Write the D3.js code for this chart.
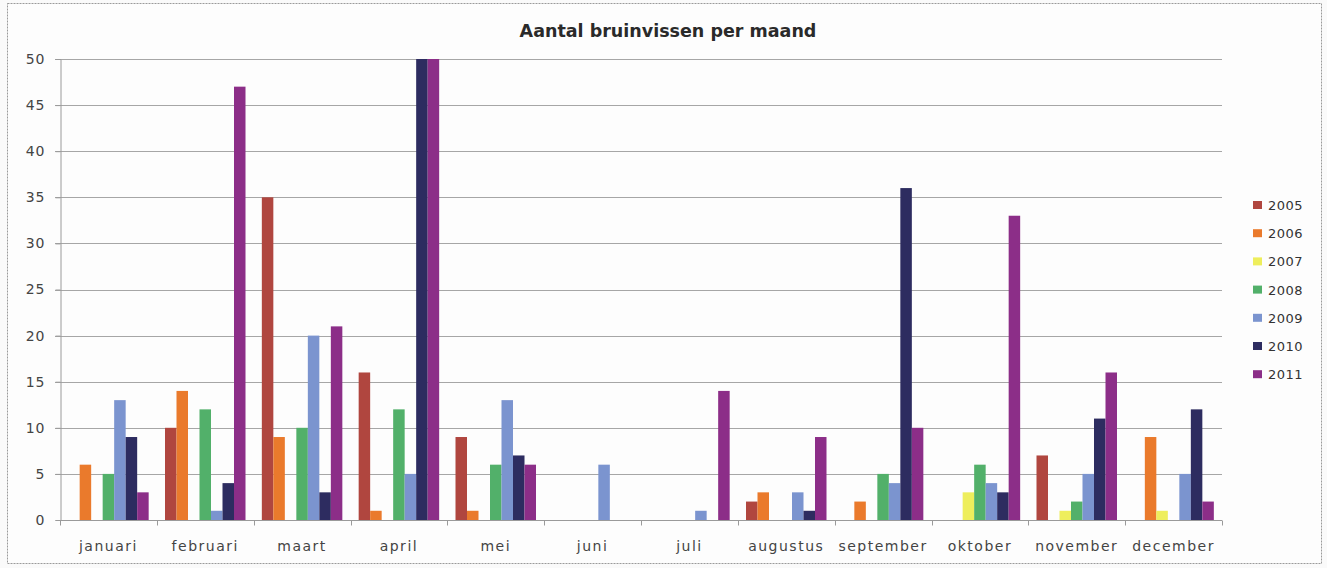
<!DOCTYPE html>
<html>
<head>
<meta charset="utf-8">
<script src="https://cdn.jsdelivr.net/npm/d3@7"></script>
<style>
  body { margin: 0; background: #fafafa; }
  text { font-family: "DejaVu Sans", sans-serif; }
</style>
</head>
<body>
<script>
// data
var months = ['januari', 'februari', 'maart', 'april', 'mei', 'juni', 'juli', 'augustus', 'september', 'oktober', 'november', 'december']
var years = ['2005', '2006', '2007', '2008', '2009', '2010', '2011']
var colors = ['#b0463f', '#ea7a2c', '#eeee5c', '#52b06a', '#7b94cf', '#2d2c60', '#8c2e88']
var y2005 = [0, 10, 35, 16, 9, 0, 0, 2, 0, 0, 7, 0]
var y2006 = [6, 14, 9, 1, 1, 0, 0, 3, 2, 0, 0, 9]
var y2007 = [0, 0, 0, 0, 0, 0, 0, 0, 0, 3, 1, 1]
var y2008 = [5, 12, 10, 12, 6, 0, 0, 0, 5, 6, 2, 0]
var y2009 = [13, 1, 20, 5, 13, 6, 1, 3, 4, 4, 5, 5]
var y2010 = [9, 4, 3, 50, 7, 0, 0, 1, 36, 3, 11, 12]
var y2011 = [3, 47, 21, 50, 6, 0, 14, 9, 10, 33, 16, 2]
var yTicks = [0, 5, 10, 15, 20, 25, 30, 35, 40, 45, 50]

var series = [y2005, y2006, y2007, y2008, y2009, y2010, y2011]

var width = 1327, height = 568
var left = 60, right = 1222, top_y = 59, bottom = 520

var svg = d3.select('body').append('svg').attr('width', width).attr('height', height)

// chart frame
svg.append('rect').attr('x', 7.5).attr('y', 3.5).attr('width', 1314).attr('height', 560)
	.attr('fill', '#fdfdfd').attr('stroke', '#9a9a9a').attr('stroke-dasharray', '2,1')

var x0 = d3.scaleBand().domain(months).range([left, right])
var x1 = d3.scaleBand().domain(years).range([0, x0.bandwidth()]).paddingOuter(0.71)
var y = d3.scaleLinear().domain([0, 50]).range([bottom, top_y])

// gridlines
svg.append('g').selectAll('line').data(yTicks.slice(1)).enter().append('line')
	.attr('x1', left - 5).attr('x2', right)
	.attr('y1', d => Math.round(y(d)) + 0.5).attr('y2', d => Math.round(y(d)) + 0.5)
	.attr('stroke', '#a6a6a6')

// y axis
var yaxis = svg.append('g').attr('transform', 'translate(' + (left + 0.5) + ',0)')
	.call(d3.axisLeft(y).tickValues(yTicks).tickSize(5).tickPadding(10))
yaxis.select('.domain').attr('stroke', '#9a9a9a')
yaxis.selectAll('.tick line').attr('stroke', '#9a9a9a')
yaxis.selectAll('text').attr('font-size', '14px').attr('fill', '#444').attr('letter-spacing', '1px')

// bars
var groups = svg.append('g').selectAll('g').data(series).enter().append('g')
	.attr('fill', (d, i) => colors[i])
groups.each(function(s, si) {
	d3.select(this).selectAll('rect').data(s).enter().append('rect')
		.attr('x', (d, i) => x0(months[i]) + x1(years[si]))
		.attr('width', x1.bandwidth())
		.attr('y', d => y(d))
		.attr('height', d => bottom - y(d))
})

// x axis
var xaxis = svg.append('g').attr('transform', 'translate(0,' + (bottom + 0.5) + ')')
xaxis.append('line').attr('x1', left).attr('x2', right).attr('stroke', '#9a9a9a')
xaxis.selectAll('.tk').data(months.concat(['end'])).enter().append('line')
	.attr('x1', (d, i) => Math.round(i < 12 ? x0(d) : right) + 0.5)
	.attr('x2', (d, i) => Math.round(i < 12 ? x0(d) : right) + 0.5)
	.attr('y1', 0).attr('y2', 5).attr('stroke', '#9a9a9a')
xaxis.selectAll('text').data(months).enter().append('text')
	.attr('x', d => x0(d) + x0.bandwidth() / 2).attr('y', 30)
	.attr('text-anchor', 'middle').attr('font-size', '14px').attr('fill', '#444')
	.attr('letter-spacing', '1.5px')
	.text(d => d)

// title
svg.append('text').text('Aantal bruinvissen per maand')
	.attr('x', 668).attr('y', 37).attr('text-anchor', 'middle')
	.attr('font-size', '17.5px').attr('font-weight', 'bold').attr('fill', '#2a2a2a')

// legend
var legend = svg.append('g').selectAll('g').data(years).enter().append('g')
	.attr('transform', (d, i) => 'translate(1253,' + (205 + i * 28.2) + ')')
legend.append('rect').attr('x', 0).attr('y', -4).attr('width', 9).attr('height', 8)
	.attr('fill', (d, i) => colors[i])
legend.append('text').attr('x', 15).attr('y', 5).attr('font-size', '13px').attr('fill', '#333')
	.attr('letter-spacing', '0.5px').text(d => d)
</script>
</body>
</html>
